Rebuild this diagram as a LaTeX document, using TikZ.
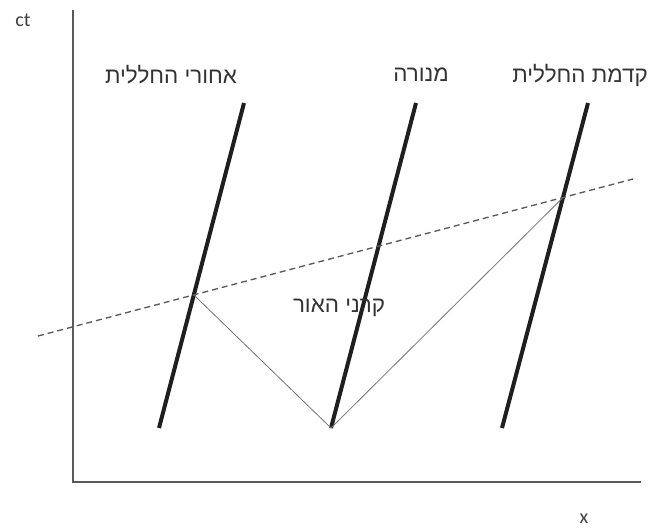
\documentclass[tikz,border=0pt]{standalone}
\usepackage{fontspec}
\setmainfont{Carlito}
\newfontfamily\hebfont[Script=Hebrew]{Liberation Sans}
\TeXXeTstate=1
\begin{document}
\begin{tikzpicture}[x=0.75pt,y=-0.75pt,
  axisline/.style={draw=black!65,line width=1.1pt},
  worldline/.style={draw=black!88,line width=3pt},
  simline/.style={draw=black!65,line width=1pt,dash pattern=on 4.5pt off 3pt},
  lightray/.style={draw=black!55,line width=0.6pt},
  heblabel/.style={font=\hebfont\fontsize{16.8}{19}\selectfont,text=black!80,inner sep=0pt},
  axislabel/.style={font=\fontsize{15}{17}\selectfont,text=black!75,inner sep=0pt}]
\useasboundingbox (0,0) rectangle (656,529);
% axes
\coordinate (otop) at (73,10);
\coordinate (o) at (73,482);
\coordinate (xend) at (641,482);
\draw[axisline] (otop) -- (o) -- (xend);
\node[axislabel] (ctl) at (23,20) {ct};
\node[axislabel] (xl) at (584,519) {x};
% world lines
\coordinate (lb) at (159,428); \coordinate (lt) at (244,103);
\coordinate (mb) at (331,428); \coordinate (mt) at (416,103);
\coordinate (rb) at (502,428); \coordinate (rt) at (588,103);
\draw[worldline] (lb) -- (lt);
\draw[worldline] (mb) -- (mt);
\draw[worldline] (rb) -- (rt);
% simultaneity line
\coordinate (sa) at (38,336);
\coordinate (sb) at (633,179);
\draw[simline] (sa) -- (sb);
% light rays
\coordinate (li) at (intersection of lb--lt and sa--sb);
\coordinate (ri) at (intersection of rb--rt and sa--sb);
\draw[lightray] (li) -- (mb) -- (ri);
% labels
\node[heblabel] (back) at (171,75) {\beginR אחורי החללית\endR};
\node[heblabel] (lamp) at (421,75) {\beginR מנורה\endR};
\node[heblabel] (front) at (580,75) {\beginR קדמת החללית\endR};
\node[heblabel] (rays) at (339,308) {\beginR קרני האור\endR};
\end{tikzpicture}
\end{document}
